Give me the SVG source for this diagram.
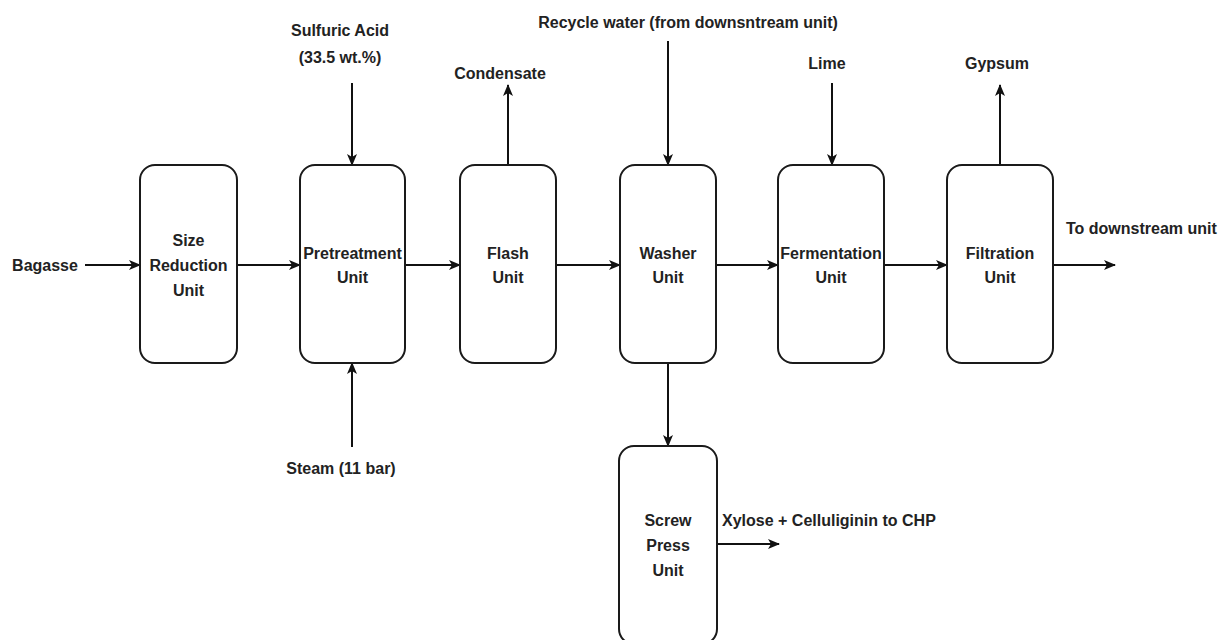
<svg xmlns="http://www.w3.org/2000/svg" width="1219" height="640" viewBox="0 0 1219 640">
<style>
.box{fill:#fff;stroke:#1a1a1a;stroke-width:2}
.t{font-family:"Liberation Sans",Arial,sans-serif;font-weight:bold;font-size:16px;fill:#222;text-anchor:middle}
.tl{text-anchor:start}
.c{fill:none;stroke:#111;stroke-width:2;marker-end:url(#ah)}
</style>
<defs>
<marker id="ah" viewBox="0 0 12 12" refX="11" refY="6" markerWidth="12" markerHeight="12" markerUnits="userSpaceOnUse" orient="auto">
<path d="M0,1 L12,6 L0,11 L3,6 Z" fill="#111"/>
</marker>
</defs>
<rect width="1219" height="640" fill="#fff"/>
<g id="connectors">
<line class="c" x1="85" y1="265" x2="140" y2="265"/>
<line class="c" x1="237" y1="265" x2="300" y2="265"/>
<line class="c" x1="405" y1="265" x2="460" y2="265"/>
<line class="c" x1="556" y1="265" x2="620" y2="265"/>
<line class="c" x1="716" y1="265" x2="778" y2="265"/>
<line class="c" x1="884" y1="265" x2="947" y2="265"/>
<line class="c" x1="1053" y1="265" x2="1115" y2="265"/>
<line class="c" x1="352" y1="83" x2="352" y2="165"/>
<line class="c" x1="352" y1="447" x2="352" y2="363"/>
<line class="c" x1="508" y1="165" x2="508" y2="85"/>
<line class="c" x1="668" y1="41" x2="668" y2="165"/>
<line class="c" x1="832" y1="83" x2="832" y2="165"/>
<line class="c" x1="1000" y1="165" x2="1000" y2="85"/>
<line class="c" x1="668" y1="363" x2="668" y2="446"/>
<line class="c" x1="717" y1="544" x2="779" y2="544"/>
</g>
<g id="labels">
<text class="t" x="45" y="271">Bagasse</text>
<text class="t" x="340" y="36">Sulfuric Acid</text>
<text class="t" x="340" y="63">(33.5 wt.%)</text>
<text class="t" x="500" y="79">Condensate</text>
<text class="t" x="688" y="28">Recycle water (from downsntream unit)</text>
<text class="t" x="827" y="69">Lime</text>
<text class="t" x="997" y="69">Gypsum</text>
<text class="t tl" x="1066" y="234">To downstream unit</text>
<text class="t" x="341" y="474">Steam (11 bar)</text>
<text class="t tl" x="722" y="526">Xylose + Celluliginin to CHP</text>
</g>
<g id="size-reduction">
<rect class="box" x="140" y="165" width="97" height="198" rx="15"/>
<text class="t" x="188.5" y="246">Size</text>
<text class="t" x="188.5" y="271">Reduction</text>
<text class="t" x="188.5" y="296">Unit</text>
</g>
<g id="pretreatment">
<rect class="box" x="300" y="165" width="105" height="198" rx="15"/>
<text class="t" x="352.5" y="259">Pretreatment</text>
<text class="t" x="352.5" y="283">Unit</text>
</g>
<g id="flash">
<rect class="box" x="460" y="165" width="96" height="198" rx="15"/>
<text class="t" x="508" y="259">Flash</text>
<text class="t" x="508" y="283">Unit</text>
</g>
<g id="washer">
<rect class="box" x="620" y="165" width="96" height="198" rx="15"/>
<text class="t" x="668" y="259">Washer</text>
<text class="t" x="668" y="283">Unit</text>
</g>
<g id="fermentation">
<rect class="box" x="778" y="165" width="106" height="198" rx="15"/>
<text class="t" x="831" y="259">Fermentation</text>
<text class="t" x="831" y="283">Unit</text>
</g>
<g id="filtration">
<rect class="box" x="947" y="165" width="106" height="198" rx="15"/>
<text class="t" x="1000" y="259">Filtration</text>
<text class="t" x="1000" y="283">Unit</text>
</g>
<g id="screw-press">
<rect class="box" x="619" y="446" width="98" height="198" rx="15"/>
<text class="t" x="668" y="526">Screw</text>
<text class="t" x="668" y="551">Press</text>
<text class="t" x="668" y="576">Unit</text>
</g>
</svg>
